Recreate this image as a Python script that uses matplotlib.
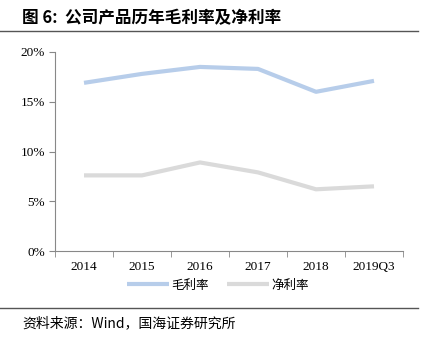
import matplotlib.pyplot as plt
import numpy as np

plt.rcParams['font.family'] = ['Liberation Serif', 'Noto Sans CJK SC', 'DejaVu Sans']

years = ["2014", "2015", "2016", "2017", "2018", "2019Q3"]
gross = [16.9, 17.8, 18.5, 18.3, 16.0, 17.1]
net = [7.6, 7.6, 8.9, 7.9, 6.2, 6.5]

W, H = 421, 346
fig = plt.figure(figsize=(W / 100, H / 100), dpi=100)
ax = fig.add_axes([55 / W, 1 - 251 / H, 348 / W, 199 / H])

x = np.arange(len(years))
ax.plot(x, gross, color="#B7CDEA", lw=3, label="毛利率", solid_capstyle="butt")
ax.plot(x, net, color="#DADADA", lw=3, label="净利率", solid_capstyle="butt")

ax.set_xlim(-0.5, len(years) - 0.5)
ax.set_ylim(0, 20)
ax.set_yticks([0, 5, 10, 15, 20])
ax.set_yticklabels([f"{v}%" for v in [0, 5, 10, 15, 20]], fontsize=9.5)
ax.set_xticks(x)
ax.set_xticklabels(years, fontsize=9.5)
ax.set_xticks(np.arange(-0.5, len(years)), minor=True)
ax.tick_params(axis="x", which="major", length=0, pad=7)
ax.tick_params(axis="x", which="minor", length=4, color="#888888")
ax.tick_params(axis="y", length=4, color="#888888", pad=3)
for s in ["top", "right"]:
    ax.spines[s].set_visible(False)
for s in ["left", "bottom"]:
    ax.spines[s].set_color("#888888")
    ax.spines[s].set_linewidth(0.8)

ax.legend(loc="center", bbox_to_anchor=(218 / W, 1 - 285 / H), bbox_transform=fig.transFigure,
          ncol=2, frameon=False, handlelength=3.3, handletextpad=0.2, columnspacing=1.5,
          prop={"family": ["Noto Sans CJK SC"], "size": 9})

fig.text(22 / W, 1 - 18 / H, "图 6:  公司产品历年毛利率及净利率", fontsize=12, fontweight="bold",
         family=["Noto Sans CJK SC"], va="center")
fig.add_artist(plt.Line2D([0, 418 / W], [1 - 31 / H, 1 - 31 / H], color="#555555", lw=1))
fig.add_artist(plt.Line2D([0, 418 / W], [1 - 308 / H, 1 - 308 / H], color="#555555", lw=1))
fig.text(22 / W, 1 - 323 / H, "资料来源：Wind，国海证券研究所", fontsize=10,
         family=["Noto Sans CJK SC", "DejaVu Sans"], va="center")

fig.savefig("out.png", dpi=100)
